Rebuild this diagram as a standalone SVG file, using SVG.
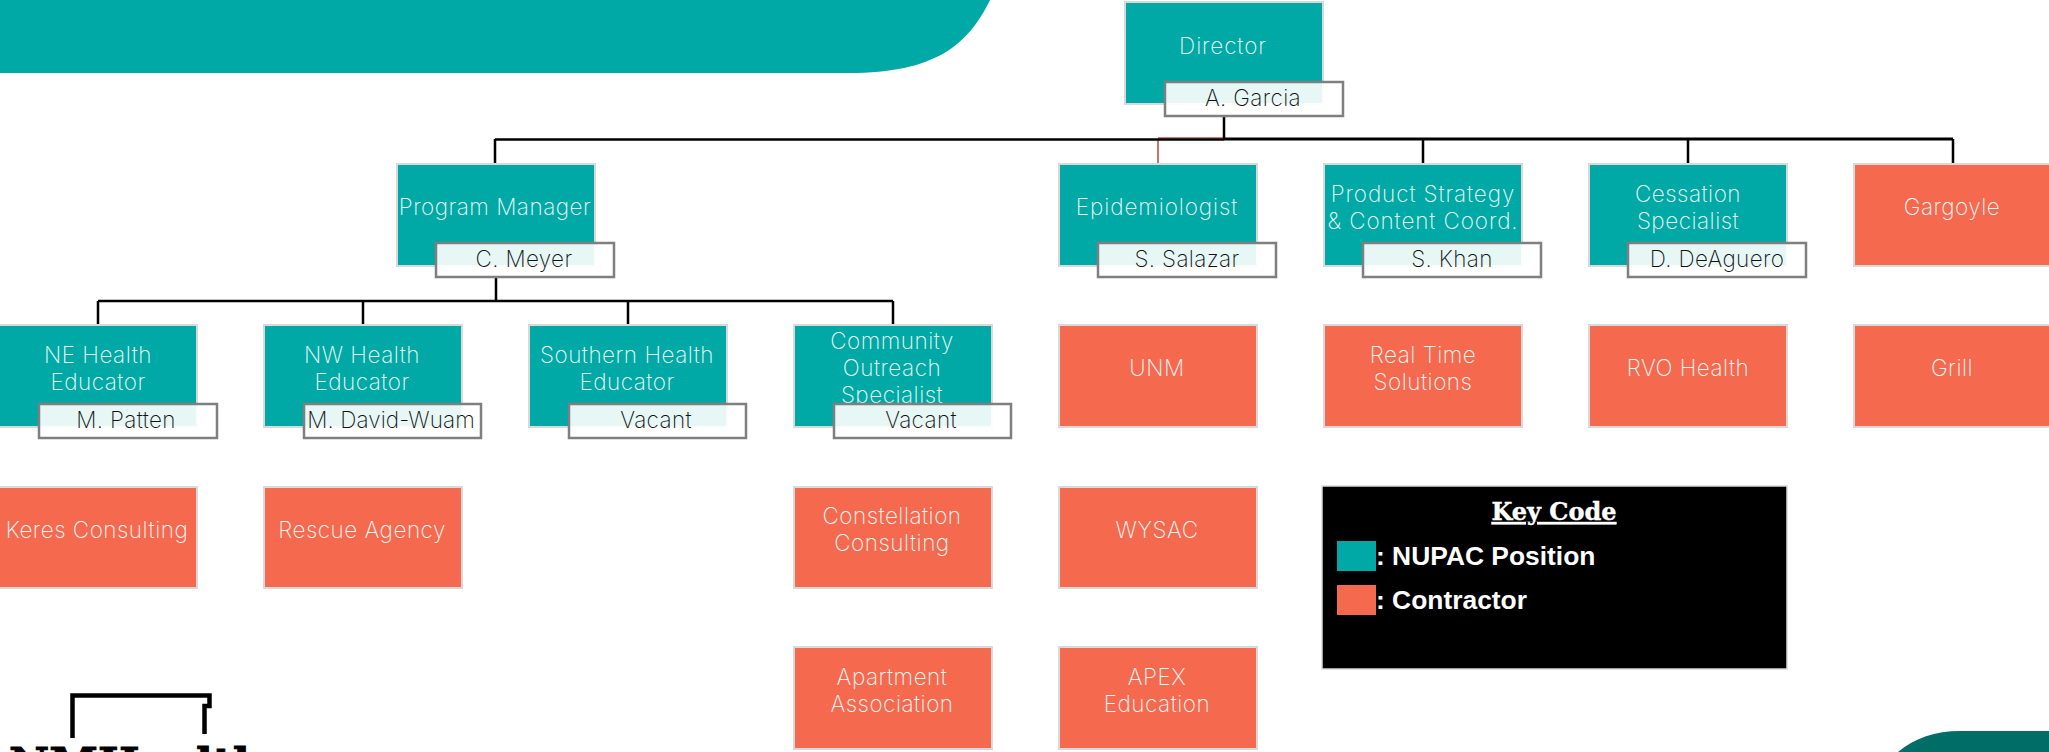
<svg xmlns="http://www.w3.org/2000/svg" width="2049" height="752" viewBox="0 0 2049 752">
<style>
.t{fill:#00a9a5;stroke:#d9d9d9;stroke-width:2}
.c{fill:#f56a4f;stroke:#d9d9d9;stroke-width:2}
.n{fill:#fff;fill-opacity:.9;stroke:#7f7f7f;stroke-width:2.5}
text{font-family:Inter,"Liberation Sans",sans-serif;font-weight:200;font-size:22.5px;text-anchor:middle;letter-spacing:.5px}
.l{fill:#eef9f8}
.d{fill:#111;letter-spacing:.35px}
.x{letter-spacing:.9px}
.w{stroke:#000;stroke-width:2.5;fill:none}
.k{font-family:"Liberation Sans",Arial,sans-serif;font-weight:700;font-size:26.4px;fill:#fff;text-anchor:start;letter-spacing:0}
</style>
<path id="banner" d="M0 0H990C968 45 935 73 849 73H0Z" fill="#00a9a5"/>
<path id="corner" d="M1898 752C1915 738 1935 731 1960 731H2049V752Z" fill="#006d66"/>
<g id="connectors">
<path d="M1158 140V163M1158 138H1224" fill="none" stroke="#c0504d" stroke-width="1.6"/>
<path class="w" d="M1224 116V139M495 139.500H1224M495 139V163M1423 139V163M1688 139V163M1953 139V163M496 277V301M98 301H893M98 301V325M363 301V325M628 301V325M893 301V325"/>
<path d="M1224 139H1953" fill="none" stroke="#000" stroke-width="3"/>
</g>
<g id="director"><rect class="t" x="1125" y="2" width="198" height="102"/><text class="l x" x="1223" y="54">Director</text><rect class="n" x="1165" y="82" width="178" height="34"/><text class="d" x="1253" y="106">A. Garcia</text></g>
<g id="program-manager"><rect class="t" x="397" y="164" width="198" height="102"/><text class="l" x="495" y="215">Program Manager</text><rect class="n" x="436" y="243" width="178" height="34"/><text class="d" x="524" y="267">C. Meyer</text></g>
<g id="epidemiologist"><rect class="t" x="1059" y="164" width="198" height="102"/><text class="l x" x="1157" y="215">Epidemiologist</text><rect class="n" x="1098" y="243" width="178" height="34"/><text class="d" x="1187" y="267">S. Salazar</text></g>
<g id="product-strategy"><rect class="t" x="1324" y="164" width="198" height="102"/><text class="l x" x="1423" y="202">Product Strategy</text><text class="l x" x="1423" y="229">&amp; Content Coord.</text><rect class="n" x="1363" y="243" width="178" height="34"/><text class="d" x="1452" y="267">S. Khan</text></g>
<g id="cessation"><rect class="t" x="1589" y="164" width="198" height="102"/><text class="l" x="1688" y="202">Cessation</text><text class="l" x="1688" y="229">Specialist</text><rect class="n" x="1628" y="243" width="178" height="34"/><text class="d" x="1717" y="267">D. DeAguero</text></g>
<g id="gargoyle"><rect class="c" x="1854" y="164" width="198" height="102"/><text class="l" x="1952" y="215">Gargoyle</text></g>
<g id="ne-health"><rect class="t" x="-1" y="325" width="198" height="102"/><text class="l" x="98" y="363">NE Health</text><text class="l" x="98" y="390">Educator</text><rect class="n" x="39" y="404" width="178" height="34"/><text class="d" x="126" y="428">M. Patten</text></g>
<g id="nw-health"><rect class="t" x="264" y="325" width="198" height="102"/><text class="l" x="362" y="363">NW Health</text><text class="l" x="362" y="390">Educator</text><rect class="n" x="304" y="404" width="177" height="34"/><text class="d" x="391" y="428" style="letter-spacing:.1px">M. David-Wuam</text></g>
<g id="southern-health"><rect class="t" x="529" y="325" width="198" height="102"/><text class="l" x="627" y="363">Southern Health</text><text class="l" x="627" y="390">Educator</text><rect class="n" x="569" y="404" width="177" height="34"/><text class="d" x="656" y="428">Vacant</text></g>
<g id="community"><rect class="t" x="794" y="325" width="198" height="102"/><text class="l" x="892" y="349">Community</text><text class="l" x="892" y="376">Outreach</text><text class="l" x="892" y="403">Specialist</text><rect class="n" x="834" y="404" width="177" height="34"/><text class="d" x="921" y="428">Vacant</text></g>
<g id="unm"><rect class="c" x="1059" y="325" width="198" height="102"/><text class="l" x="1157" y="376">UNM</text></g>
<g id="real-time"><rect class="c" x="1324" y="325" width="198" height="102"/><text class="l" x="1423" y="363">Real Time</text><text class="l" x="1423" y="390">Solutions</text></g>
<g id="rvo"><rect class="c" x="1589" y="325" width="198" height="102"/><text class="l" x="1688" y="376">RVO Health</text></g>
<g id="grill"><rect class="c" x="1854" y="325" width="198" height="102"/><text class="l" x="1952" y="376">Grill</text></g>
<g id="keres"><rect class="c" x="-1" y="487" width="198" height="101"/><text class="l" x="97" y="538">Keres Consulting</text></g>
<g id="rescue"><rect class="c" x="264" y="487" width="198" height="101"/><text class="l" x="362" y="538">Rescue Agency</text></g>
<g id="constellation"><rect class="c" x="794" y="487" width="198" height="101"/><text class="l" x="892" y="524">Constellation</text><text class="l" x="892" y="551">Consulting</text></g>
<g id="wysac"><rect class="c" x="1059" y="487" width="198" height="101"/><text class="l" x="1157" y="538">WYSAC</text></g>
<g id="apartment"><rect class="c" x="794" y="647" width="198" height="102"/><text class="l" x="892" y="685">Apartment</text><text class="l" x="892" y="712">Association</text></g>
<g id="apex"><rect class="c" x="1059" y="647" width="198" height="102"/><text class="l" x="1157" y="685">APEX</text><text class="l" x="1157" y="712">Education</text></g>
<g id="key">
<rect x="1322" y="486" width="465" height="183" fill="#000" stroke="#d9d9d9" stroke-width="1.5"/>
<text x="1554" y="520" style="font-family:'DejaVu Serif',serif;font-weight:700;font-size:24px;fill:#fff;stroke:#fff;stroke-width:.4;text-decoration:underline;letter-spacing:0">Key Code</text>
<rect x="1337" y="541" width="39" height="30" fill="#00a9a5"/>
<text class="k" x="1376" y="565">: NUPAC Position</text>
<rect x="1337" y="585" width="39" height="30" fill="#f56a4f"/>
<text class="k" x="1376" y="609">: Contractor</text>
</g>
<g id="logo">
<path d="M72.500 738V695.500H209.500V706H204.500V734" fill="none" stroke="#000" stroke-width="4.500"/>
<text x="9" y="780" style="font-family:'DejaVu Serif',serif;font-weight:700;font-size:44px;fill:#000;stroke:#000;stroke-width:1;text-anchor:start;letter-spacing:0">NMHealth</text>
</g>
</svg>
